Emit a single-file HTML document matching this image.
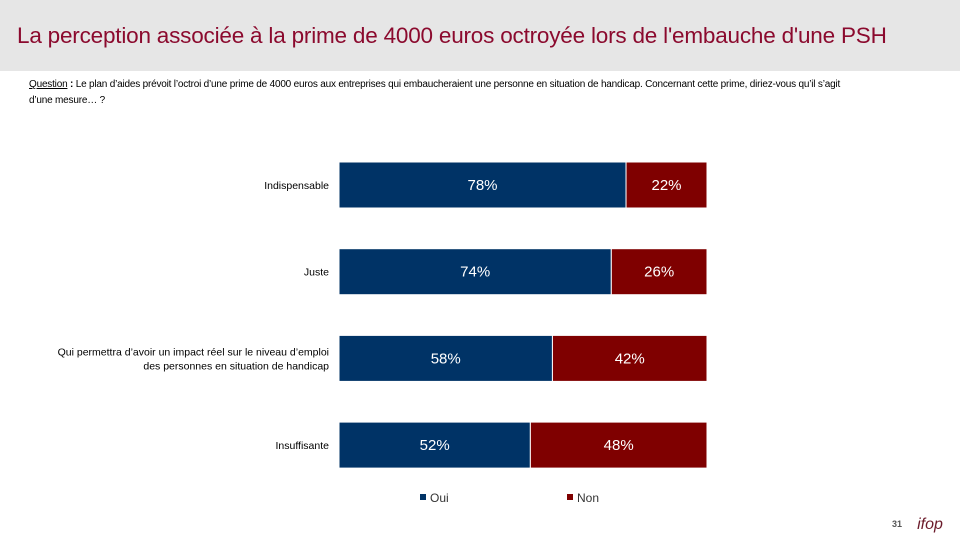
<!DOCTYPE html>
<html><head><meta charset="utf-8"><style>
body{margin:0;width:960px;height:540px;background:#fff;font-family:"Liberation Sans",sans-serif;position:relative;overflow:hidden}
#hdr{position:absolute;left:0;top:0;width:960px;height:71px;background:#e6e6e6}
#title{position:absolute;left:17px;top:23px;font-size:22.5px;color:#8b0a2e;white-space:nowrap;letter-spacing:-0.2px}
#q{position:absolute;left:29px;top:77px;font-size:10px;line-height:16px;color:#000;width:815px;letter-spacing:-0.2px}
svg{position:absolute;left:0;top:0}
</style></head><body>
<div id="hdr"></div>
<div id="title">La perception associée à la prime de 4000 euros octroyée lors de l'embauche d'une PSH</div>
<div id="q"><u>Question</u> <b>:</b> Le plan d’aides prévoit l’octroi d’une prime de 4000 euros aux entreprises qui embaucheraient une personne en situation de handicap. Concernant cette prime, diriez-vous qu’il s’agit d’une mesure… ?</div>
<svg id="chart" width="960" height="540"></svg>
<script>
const categories=[["Indispensable"],["Juste"],["Qui permettra d’avoir un impact réel sur le niveau d’emploi","des personnes en situation de handicap"],["Insuffisante"]];
const oui=[78,74,58,52];
const non=[22,26,42,48];
const seriesNames=["Oui","Non"];
const colors=["#003366","#7f0000"];
const svg=document.getElementById('chart');const NS="http://www.w3.org/2000/svg";
const x0=339,x100=707;const xs=v=>x0+(x100-x0)*v/100;
const yTop=162,step=86.7,bh=46;
function mk(t,a){const e=document.createElementNS(NS,t);for(const k in a)e.setAttribute(k,a[k]);svg.appendChild(e);return e;}
categories.forEach((c,i)=>{
 const y=yTop+i*step;
 const vals=[oui[i],non[i]];let acc=0;
 vals.forEach((v,j)=>{
  const r=mk('rect',{x:xs(acc),y:y,width:xs(acc+v)-xs(acc),height:bh,fill:colors[j],stroke:'#fff','stroke-width':1});
  
  
  const t=mk('text',{x:(xs(acc)+xs(acc+v))/2,y:y+bh/2+5,'text-anchor':'middle',fill:'#fff','font-size':15});
  t.textContent=v+'%';
  
  
  acc+=v;
 });
 const n=c.length;
 c.forEach((line,k)=>{
  const t=mk('text',{x:329,y:y+bh/2+4+(k-(n-1)/2)*14,'text-anchor':'end',fill:'#000','font-size':10.5});
  t.textContent=line;
  
  
 });
});
const lx=[420,567];
seriesNames.forEach((s,j)=>{
 const r=mk('rect',{x:lx[j],y:494,width:6,height:6,fill:colors[j]});
 
 
 const t=mk('text',{x:lx[j]+10,y:502,fill:'#333','font-size':12});
 t.textContent=s;
 
 
});
const pn=mk('text',{x:897,y:527,'text-anchor':'middle',fill:'#555','font-size':9,'font-weight':'bold'});pn.textContent='31';


const lg=mk('text',{x:930,y:529,'text-anchor':'middle',fill:'#6b1a2a','font-size':16,'font-style':'italic'});lg.textContent='ifop';


</script>
</body></html>
